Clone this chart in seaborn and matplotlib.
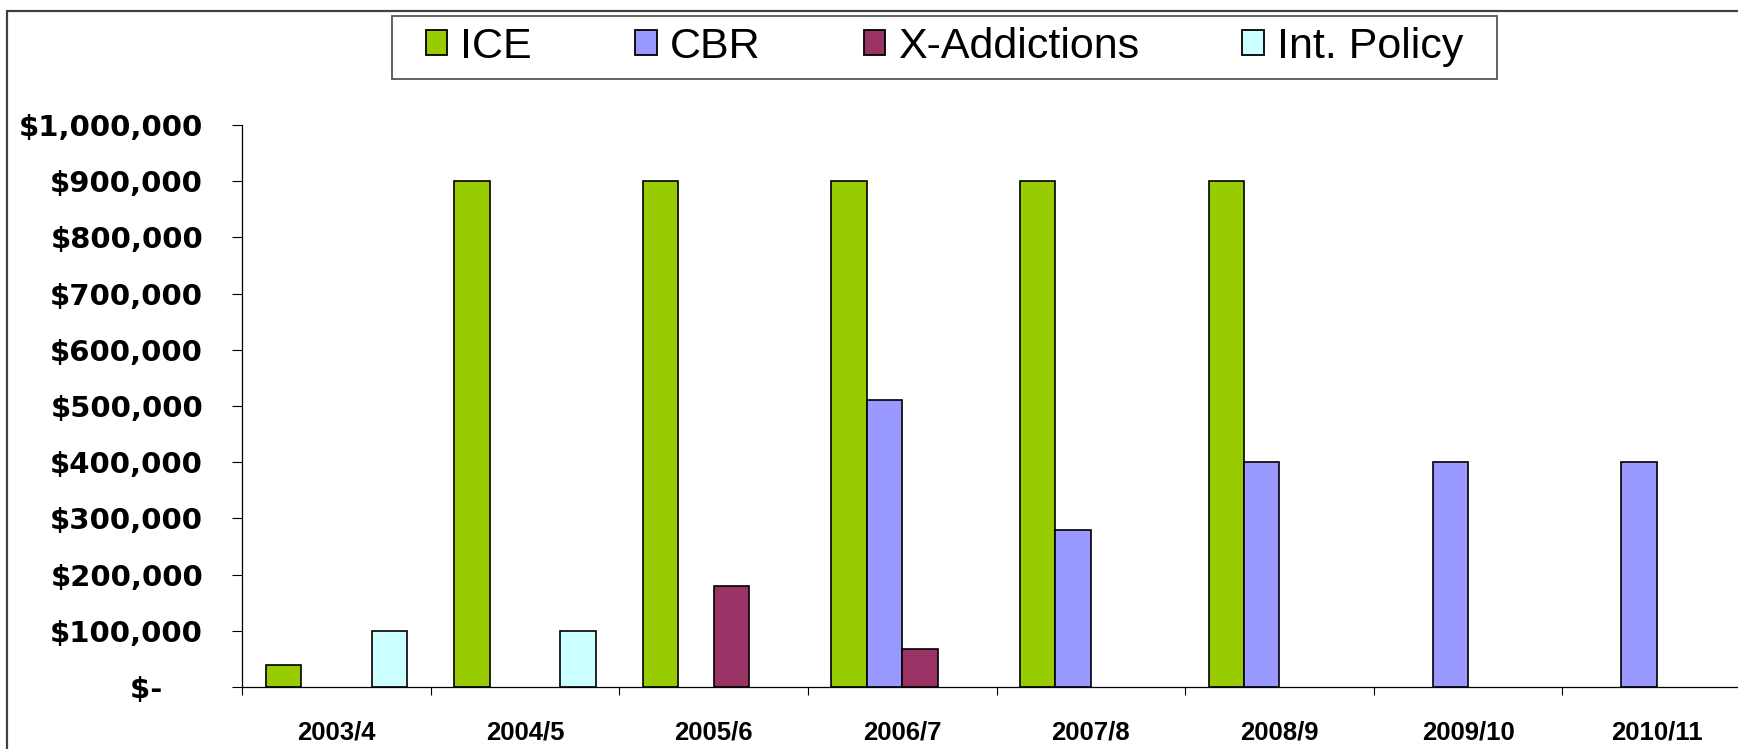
import numpy as np
import pandas as pd
import matplotlib
matplotlib.use("Agg")
import matplotlib.pyplot as plt
from matplotlib.lines import Line2D
from matplotlib.patches import Rectangle
from matplotlib.ticker import FixedLocator
import seaborn as sns

# ---- data ----
years = ["2003/4", "2004/5", "2005/6", "2006/7", "2007/8", "2008/9", "2009/10", "2010/11"]
series_names = ["ICE", "CBR", "X-Addictions", "Int. Policy"]
ice = [40000, 900000, 900000, 900000, 900000, 900000, np.nan, np.nan]
cbr = [np.nan, np.nan, np.nan, 510000, 280000, 400000, 400000, 400000]
x_addictions = [np.nan, np.nan, 180000, 68000, np.nan, np.nan, np.nan, np.nan]
int_policy = [100000, 100000, np.nan, np.nan, np.nan, np.nan, np.nan, np.nan]
ytick_values = [0, 100000, 200000, 300000, 400000, 500000, 600000, 700000, 800000, 900000, 1000000]
ytick_labels = ["$-    ", "$100,000", "$200,000", "$300,000", "$400,000", "$500,000",
                "$600,000", "$700,000", "$800,000", "$900,000", "$1,000,000"]
colors = ["#99CC00", "#9999FF", "#993366", "#CCFFFF"]

df = pd.DataFrame({
    "Year": years * 4,
    "Series": sum([[s] * len(years) for s in series_names], []),
    "Value": ice + cbr + x_addictions + int_policy,
})

sns.set_theme(style="white")
plt.rcParams["font.family"] = ["Liberation Sans", "DejaVu Sans"]
plt.rcParams["text.color"] = "black"
plt.rcParams["xtick.color"] = "black"
plt.rcParams["ytick.color"] = "black"

W, H = 1738, 749
fig = plt.figure(figsize=(W / 100, H / 100), dpi=100)
ax_left, ax_right, ax_top, ax_bottom = 242, 1751, 125, 687
ax = fig.add_axes([ax_left / W, 1 - ax_bottom / H, (ax_right - ax_left) / W, (ax_bottom - ax_top) / H])

sns.barplot(data=df, x="Year", y="Value", hue="Series", order=years, hue_order=series_names,
            palette=colors, saturation=1, width=0.75, errorbar=None, edgecolor="black",
            linewidth=1.2, ax=ax, legend=False)

ax.set_xlim(-0.5, len(years) - 0.5)
ax.set_ylim(0, 1000000)
ax.set_xlabel("")
ax.set_ylabel("")

for s in ["top", "right"]:
    ax.spines[s].set_visible(False)
for s in ["left", "bottom"]:
    ax.spines[s].set_color("black")
    ax.spines[s].set_linewidth(0.9)

ax.set_yticks(ytick_values)
ax.set_yticklabels(ytick_labels, fontfamily="DejaVu Sans", fontweight="bold", fontsize=21, color="black")
ax.tick_params(axis="y", direction="out", length=7, width=0.8, color="black", pad=21, left=True)

ax.set_xticks(range(len(years)))
ax.set_xticklabels(years, fontweight="bold", fontsize=18.5, color="black")
ax.tick_params(axis="x", which="major", length=0, pad=24)
ax.xaxis.set_minor_locator(FixedLocator(np.arange(-0.5, len(years), 1.0)))
ax.tick_params(axis="x", which="minor", direction="out", length=6, width=0.8, color="black", bottom=True)
ax.grid(False)

# legend frame drawn separately
fig.add_artist(Rectangle((392 / W, 1 - 78.7 / H), (1497 - 392) / W, (78.7 - 15.5) / H,
                         transform=fig.transFigure, facecolor="white", edgecolor="#555555",
                         linewidth=1.3, zorder=2))
handles = [plt.Rectangle((0, 0), 1, 1, facecolor=c, edgecolor="black", linewidth=1.3) for c in colors]
leg = fig.legend(handles, series_names, loc="center",
                 bbox_to_anchor=((392 + 1497) / 2 / W, 1 - 47 / H),
                 ncol=4, fontsize=31, frameon=False,
                 handlelength=0.5, handleheight=0.5, handletextpad=0.3,
                 columnspacing=2.4, borderpad=0.25, labelcolor="black")
leg.set_zorder(3)

# outer chart border (top and left edges visible)
fig.add_artist(Line2D([7 / W, 7 / W], [0, 1 - 11 / H], transform=fig.transFigure, color="#404040", linewidth=1.6))
fig.add_artist(Line2D([7 / W, 1], [1 - 11 / H, 1 - 11 / H], transform=fig.transFigure, color="#404040", linewidth=1.6))

fig.savefig("out.png", dpi=100)
